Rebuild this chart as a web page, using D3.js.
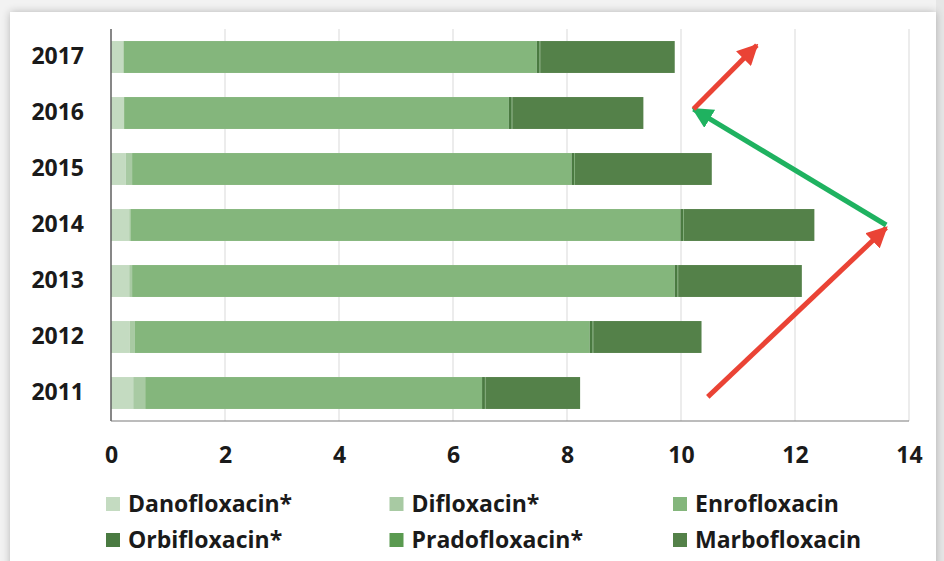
<!DOCTYPE html>
<html>
<head>
<meta charset="utf-8">
<script src="https://cdn.jsdelivr.net/npm/d3@7"></script>
<style>
  body { margin: 0; background: #ececec; }
  svg { display: block; }
  text { font-family: "Open Sans", sans-serif; font-weight: 700; fill: #1a1a1a; }
</style>
</head>
<body>
<div id="chart"></div>
<script>
var width = 944;
var height = 561;

// data (sales, per year)
var years = ['2017', '2016', '2015', '2014', '2013', '2012', '2011'];
var drugs = ['Danofloxacin*', 'Difloxacin*', 'Enrofloxacin', 'Orbifloxacin*', 'Pradofloxacin*', 'Marbofloxacin'];
var danofloxacin  = [0.22, 0.23, 0.26, 0.32, 0.32, 0.33, 0.39];
var difloxacin    = [0.00, 0.00, 0.11, 0.02, 0.05, 0.09, 0.21];
var enrofloxacin  = [7.25, 6.75, 7.71, 9.65, 9.52, 7.98, 5.91];
var orbifloxacin  = [0.05, 0.05, 0.05, 0.05, 0.05, 0.05, 0.05];
var pradofloxacin = [0.01, 0.01, 0.01, 0.01, 0.01, 0.01, 0.01];
var marbofloxacin = [2.36, 2.30, 2.40, 2.29, 2.17, 1.90, 1.66];
var xTicks = [0, 2, 4, 6, 8, 10, 12, 14];

var colors = ['#c4dbc1', '#a8caa3', '#84b67c', '#4a7a41', '#5a9a50', '#548149'];

// trend arrows: [value, year, shift within band]
var arrows = [
  { color: '#ea4335', from: [10.47, '2011', 0.07], to: [13.6, '2014', 0.05] },
  { color: '#1fb260', from: [13.6, '2014', 0.0], to: [10.22, '2016', -0.07] },
  { color: '#ea4335', from: [10.22, '2016', -0.07], to: [11.33, '2017', -0.21] }
];

var rows = years.map(function (y, i) {
  return {
    year: y,
    'Danofloxacin*': danofloxacin[i],
    'Difloxacin*': difloxacin[i],
    'Enrofloxacin': enrofloxacin[i],
    'Orbifloxacin*': orbifloxacin[i],
    'Pradofloxacin*': pradofloxacin[i],
    'Marbofloxacin': marbofloxacin[i]
  };
});

var svg = d3.select('#chart')
  .append('svg')
  .attr('width', width)
  .attr('height', height);

// card with a soft shadow
var defs = svg.append('defs');
var shadow = defs.append('filter').attr('id', 'shadow')
  .attr('x', -0.05).attr('y', -0.05).attr('width', 1.1).attr('height', 1.1);
shadow.append('feGaussianBlur').attr('in', 'SourceAlpha').attr('stdDeviation', 4);
shadow.append('feOffset').attr('dx', 0).attr('dy', 0).attr('result', 'b');
shadow.append('feComponentTransfer').append('feFuncA').attr('type', 'linear').attr('slope', 0.25);
var merge = shadow.append('feMerge');
merge.append('feMergeNode');
merge.append('feMergeNode').attr('in', 'SourceGraphic');

svg.append('rect')
  .attr('x', 0).attr('y', 0).attr('width', width).attr('height', height)
  .attr('fill', '#f2f2f2');
svg.append('rect')
  .attr('x', 936).attr('y', 0).attr('width', 8).attr('height', height)
  .attr('fill', '#e6e6e6');
svg.append('rect')
  .attr('x', 10).attr('y', 12).attr('width', 926).attr('height', 570)
  .attr('fill', '#fff')
  .attr('filter', 'url(#shadow)');

var margin = { left: 111, top: 29, right: 35, bottom: 140 };
var plotW = 909 - margin.left;
var plotH = 421 - margin.top;

var g = svg.append('g')
  .attr('transform', 'translate(' + margin.left + ',' + margin.top + ')');

var x = d3.scaleLinear().domain([0, 14]).range([0, plotW]);
var y = d3.scaleBand().domain(years).range([0, plotH]).paddingInner(0.43).paddingOuter(0.215);

// gridlines
g.selectAll('.grid')
  .data(xTicks.filter(function (d) { return d > 0; }))
  .enter()
  .append('line')
  .attr('x1', d => x(d)).attr('x2', d => x(d))
  .attr('y1', 0).attr('y2', plotH)
  .attr('stroke', '#d9d9d9')
  .attr('stroke-width', 1);

// stacked bars
var stack = d3.stack().keys(drugs);
var series = stack(rows);

g.selectAll('.layer')
  .data(series)
  .enter()
  .append('g')
  .attr('fill', (d, i) => colors[i])
  .selectAll('rect')
  .data(d => d)
  .enter()
  .append('rect')
  .attr('x', d => x(d[0]))
  .attr('width', d => Math.max(0, x(d[1]) - x(d[0])))
  .attr('y', d => y(d.data.year))
  .attr('height', y.bandwidth());

// axes
g.append('line')
  .attr('x1', 0).attr('x2', 0).attr('y1', 0).attr('y2', plotH)
  .attr('stroke', '#5f5f5f').attr('stroke-width', 1.5);
g.append('line')
  .attr('x1', 0).attr('x2', plotW).attr('y1', plotH).attr('y2', plotH)
  .attr('stroke', '#7a7a7a').attr('stroke-width', 1.2);

var yAxis = g.append('g').call(d3.axisLeft(y).tickSize(0).tickPadding(27));
yAxis.select('.domain').remove();
yAxis.selectAll('text')
  .attr('font-size', 23)
  .attr('font-family', '"Open Sans", sans-serif')
  .attr('font-weight', 700)
  .attr('fill', '#1a1a1a');

var xAxis = g.append('g')
  .attr('transform', 'translate(0,' + plotH + ')')
  .call(d3.axisBottom(x).tickValues(xTicks).tickSize(0).tickPadding(26).tickFormat(d3.format('d')));
xAxis.select('.domain').remove();
xAxis.selectAll('text')
  .attr('font-size', 23)
  .attr('font-family', '"Open Sans", sans-serif')
  .attr('font-weight', 700)
  .attr('fill', '#1a1a1a');

// arrows
var marker = defs.selectAll('marker')
  .data(arrows)
  .enter()
  .append('marker')
  .attr('id', (d, i) => 'head' + i)
  .attr('viewBox', '0 0 10 10')
  .attr('refX', 9).attr('refY', 5)
  .attr('markerWidth', 4.2).attr('markerHeight', 4.2)
  .attr('markerUnits', 'strokeWidth')
  .attr('orient', 'auto');
marker.append('path')
  .attr('d', 'M0,0 L10,5 L0,10 Z')
  .attr('fill', d => d.color);

function py(p) { return y(p[1]) + y.bandwidth() / 2 + p[2] * y.step(); }

g.selectAll('.arrow')
  .data(arrows)
  .enter()
  .append('line')
  .attr('x1', d => x(d.from[0])).attr('y1', d => py(d.from))
  .attr('x2', d => x(d.to[0])).attr('y2', d => py(d.to))
  .attr('stroke', d => d.color)
  .attr('stroke-width', 5)
  .attr('marker-end', (d, i) => 'url(#head' + i + ')');

// legend, 3 columns x 2 rows
var legend = svg.append('g').attr('transform', 'translate(106, 497)');
var item = legend.selectAll('g')
  .data(drugs)
  .enter()
  .append('g')
  .attr('transform', (d, i) => 'translate(' + (i % 3) * 283.5 + ',' + Math.floor(i / 3) * 36 + ')');
item.append('rect')
  .attr('width', 14).attr('height', 14)
  .attr('fill', (d, i) => colors[i]);
item.append('text')
  .attr('x', 22).attr('y', 7)
  .attr('dy', '0.35em')
  .attr('font-size', 23)
  .text(d => d);
</script>
</body>
</html>
